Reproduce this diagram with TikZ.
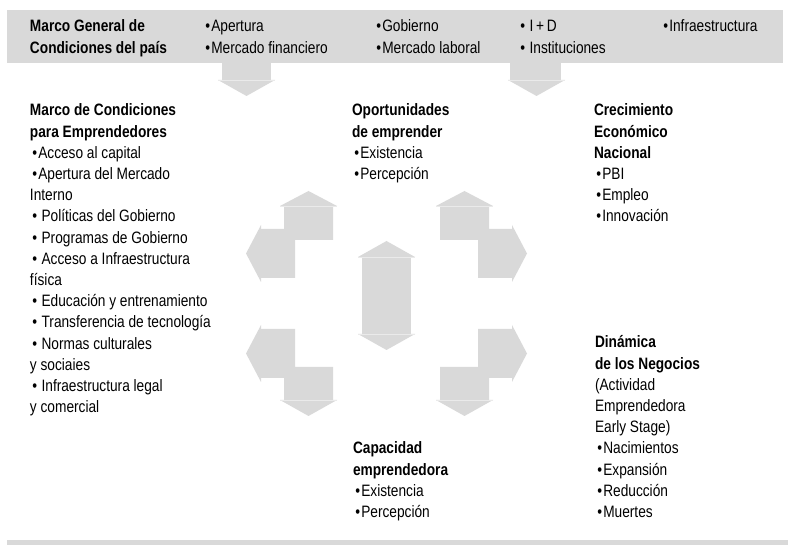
\documentclass[tikz,border=0pt]{standalone}
\usepackage{fontspec}
\setmainfont[FakeStretch=0.83]{Liberation Sans}
\definecolor{boxgray}{RGB}{217,217,217}
\definecolor{seam}{RGB}{234,234,234}
\newcommand{\txtblock}[1]{\parbox[t]{240pt}{\fontsize{16.5}{21.2}\selectfont\raggedright #1}}
\newcommand{\bu}{\hspace{2.3pt}•\hspace{1.2pt}}
\newcommand{\bs}{\hspace{2.3pt}•\hspace{4.5pt}}
\begin{document}
\begin{tikzpicture}[x=1pt,y=-1pt,
  txt/.style={anchor=base west, inner sep=0pt, outer sep=0pt},
  gshape/.style={fill=boxgray, draw=none},
  seamline/.style={draw=seam, line width=0.8pt}]
\useasboundingbox (0,0) rectangle (788,545);
% bars
\fill[gshape] (7,10) rectangle (783,63);
\fill[gshape] (7,540) rectangle (788,545);
% arrows from top bar
\fill[gshape] (222,63) rectangle (271,80);
\fill[gshape] (218,80) -- (275,80) -- (246.5,96) -- cycle;
\draw[seamline] (218,80) -- (275,80);
\fill[gshape] (510,63) rectangle (561,80);
\fill[gshape] (508,80) -- (565,80) -- (536.5,96) -- cycle;
\draw[seamline] (508,80) -- (565,80);
% top-left arrow pair
\fill[gshape] (284,206) -- (333,206) -- (333,240) -- (295,240) -- (295,278) -- (261,278) -- (261,229) -- (284,229) -- cycle;
\fill[gshape] (280,206) -- (337,206) -- (308.5,191) -- cycle;
\draw[seamline] (280,206) -- (337,206);
\fill[gshape] (261,225) -- (261,282) -- (246,253.5) -- cycle;
% top-right arrow pair
\fill[gshape] (489,206) -- (440,206) -- (440,240) -- (478,240) -- (478,278) -- (512,278) -- (512,229) -- (489,229) -- cycle;
\fill[gshape] (436,206) -- (493,206) -- (464.5,191) -- cycle;
\draw[seamline] (436,206) -- (493,206);
\fill[gshape] (512,225) -- (512,282) -- (527,253.5) -- cycle;
% centre double arrow
\fill[gshape] (362,257) rectangle (411,334);
\fill[gshape] (358,257) -- (415,257) -- (386.5,241) -- cycle;
\fill[gshape] (358,334) -- (415,334) -- (386.5,350) -- cycle;
\draw[seamline] (358,257) -- (415,257);
\draw[seamline] (358,334) -- (415,334);
% bottom-left arrow pair
\fill[gshape] (261,329) -- (295,329) -- (295,367) -- (333,367) -- (333,400) -- (284,400) -- (284,378) -- (261,378) -- cycle;
\fill[gshape] (261,325) -- (261,382) -- (246,353.5) -- cycle;
\fill[gshape] (280,400) -- (337,400) -- (308.5,416) -- cycle;
\draw[seamline] (280,400) -- (337,400);
% bottom-right arrow pair
\fill[gshape] (512,329) -- (478,329) -- (478,367) -- (440,367) -- (440,400) -- (489,400) -- (489,378) -- (512,378) -- cycle;
\fill[gshape] (512,325) -- (512,382) -- (527,353.5) -- cycle;
\fill[gshape] (436,400) -- (493,400) -- (464.5,416) -- cycle;
\draw[seamline] (436,400) -- (493,400);
% top bar texts
\node[txt] (mg) at (30,32) {\txtblock{\textbf{Marco General de}\\\textbf{Condiciones del país}}};
\node[txt] (t1) at (203,32) {\txtblock{\bu Apertura\\\bu Mercado financiero}};
\node[txt] (t2) at (374,32) {\txtblock{\bu Gobierno\\\bu Mercado laboral}};
\node[txt] (t3) at (518,32) {\txtblock{\bs I\,+\,D\\\bs Instituciones}};
\node[txt] (t4) at (661,32) {\txtblock{\bu Infraestructura}};
% left block
\node[txt] (mce) at (30,116) {\txtblock{\textbf{Marco de Condiciones}\\\textbf{para Emprendedores}\\
\bu Acceso al capital\\
\bu Apertura del Mercado\\
Interno\\
\bs Políticas del Gobierno\\
\bs Programas de Gobierno\\
\bs Acceso a Infraestructura\\
física\\
\bs Educación y entrenamiento\\
\bs Transferencia de tecnología\\
\bs Normas culturales\\
y sociaies\\
\bs Infraestructura legal\\
y comercial}};
% middle top
\node[txt] (ope) at (352,116) {\txtblock{\textbf{Oportunidades}\\\textbf{de emprender}\\\bu Existencia\\\bu Percepción}};
% right top
\node[txt] (cen) at (594,116) {\txtblock{\textbf{Crecimiento}\\\textbf{Económico}\\\textbf{Nacional}\\\bu PBI\\\bu Empleo\\\bu Innovación}};
% bottom middle
\node[txt] (cap) at (353,454) {\txtblock{\textbf{Capacidad}\\\textbf{emprendedora}\\\bu Existencia\\\bu Percepción}};
% bottom right
\node[txt] (din) at (595,348) {\txtblock{\textbf{Dinámica}\\\textbf{de los Negocios}\\(Actividad\\Emprendedora\\Early Stage)\\\bu Nacimientos\\\bu Expansión\\\bu Reducción\\\bu Muertes}};
\end{tikzpicture}
\end{document}
